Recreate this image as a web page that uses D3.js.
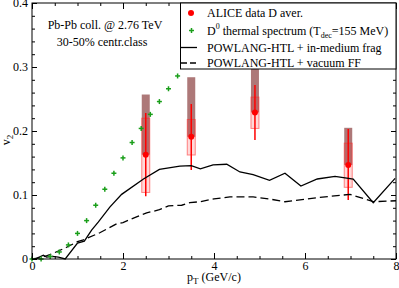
<!DOCTYPE html>
<html>
<head>
<meta charset="utf-8">
<script src="https://cdn.jsdelivr.net/npm/d3@7"></script>
<style>
  body { margin: 0; background: #fff; }
  svg text { font-family: "Liberation Serif", "DejaVu Serif", serif; fill: #000; }
</style>
</head>
<body>
<svg id="chart" width="399" height="288"></svg>
<script>
// ---- data ----
// D0 thermal spectrum (green crosses)
const thermalPt = [0, 0.2, 0.4, 0.6, 0.8, 1.0, 1.2, 1.4, 1.6, 1.8, 2.0, 2.2, 2.4, 2.6, 2.8, 3.0, 3.2];
const thermalV2 = [0, 0, 0.004, 0.011, 0.022, 0.04, 0.06, 0.084, 0.109, 0.134, 0.158, 0.182, 0.204, 0.226, 0.246, 0.266, 0.286];

// POWLANG-HTL + in-medium frag (solid)
const medPt = [0, 0.1, 0.25, 0.32, 0.45, 0.58, 0.73, 1.0, 1.15, 1.31, 1.46, 1.71, 1.97, 2.45, 2.8, 3.25, 3.5, 3.7, 3.98, 4.28, 4.57, 4.86, 5.22, 5.56, 5.91, 6.27, 6.66, 7.06, 7.5, 7.98];
const medV2 = [0, 0.001, 0.006, 0.003, 0.004, 0.003, 0, 0.025, 0.028, 0.045, 0.058, 0.081, 0.101, 0.125, 0.140, 0.145, 0.146, 0.141, 0.147, 0.148, 0.136, 0.132, 0.123, 0.134, 0.114, 0.125, 0.129, 0.125, 0.088, 0.126];

// POWLANG-HTL + vacuum FF (dashed)
const vacPt = [0, 0.2, 0.47, 0.75, 1.0, 1.13, 1.49, 1.86, 2.0, 2.37, 2.52, 2.8, 3.0, 3.29, 3.47, 3.69, 4.0, 4.35, 4.86, 5.2, 5.56, 6.29, 6.99, 7.5, 8.0];
const vacV2 = [0, 0.002, 0.009, 0.018, 0.027, 0.030, 0.041, 0.055, 0.057, 0.068, 0.072, 0.077, 0.083, 0.084, 0.088, 0.0895, 0.094, 0.097, 0.097, 0.094, 0.0895, 0.096, 0.101, 0.0895, 0.091];

// ALICE data D average
const alicePt     = [2.5, 3.5, 4.9, 6.95];
const aliceV2     = [0.163, 0.191, 0.229, 0.147];
const aliceStatLo = [0.098, 0.139, 0.186, 0.092];
const aliceStatHi = [0.228, 0.242, 0.272, 0.203];
const aliceSysLo  = [0.104, 0.1625, 0.204, 0.112];
const aliceSysHi  = [0.220, 0.218, 0.253, 0.181];
const aliceFdHi   = [0.257, 0.284, 0.33, 0.205];   // feed-down band, central value -> top

const xTicks = [0, 2, 4, 6, 8];
const yTicks = [0, 0.1, 0.2, 0.3, 0.4];

const legendLabels = ['ALICE data D aver.', 'thermal', 'POWLANG-HTL + in-medium frag', 'POWLANG-HTL + vacuum FF'];

// ---- layout ----
const svg = d3.select('#chart');
const L = 32, R = 396, T = 3, B = 259;

const x = d3.scaleLinear().domain([0, 8]).range([L, R]);
const y = d3.scaleLinear().domain([0, 0.4]).range([B, T]);

const plot = svg.append('g');

// ---- ALICE boxes and bars ----
const alice = alicePt.map((p, i) => ({
  pt: p, v: aliceV2[i], sLo: aliceStatLo[i], sHi: aliceStatHi[i],
  yLo: aliceSysLo[i], yHi: aliceSysHi[i], fd: aliceFdHi[i]
}));
const bw = 8;

plot.selectAll('.fd').data(alice).enter().append('rect')
  .attr('x', d => x(d.pt) - bw / 2)
  .attr('width', bw)
  .attr('y', d => y(d.fd))
  .attr('height', d => y(d.v) - y(d.fd))
  .attr('fill', '#ad7878');

plot.selectAll('.sys').data(alice).enter().append('rect')
  .attr('x', d => x(d.pt) - bw / 2)
  .attr('width', bw)
  .attr('y', d => y(d.yHi))
  .attr('height', d => y(d.yLo) - y(d.yHi))
  .attr('fill', 'rgba(255,0,0,0.15)')
  .attr('stroke', 'rgba(255,40,40,0.55)')
  .attr('stroke-width', 1);

plot.selectAll('.stat').data(alice).enter().append('line')
  .attr('x1', d => x(d.pt)).attr('x2', d => x(d.pt))
  .attr('y1', d => y(d.sHi)).attr('y2', d => y(d.sLo))
  .attr('stroke', '#ff0000').attr('stroke-width', 1.5);

plot.selectAll('.dot').data(alice).enter().append('circle')
  .attr('cx', d => x(d.pt)).attr('cy', d => y(d.v)).attr('r', 3)
  .attr('fill', '#ff0000');

// ---- curves ----
const line = d3.line().x(d => x(d[0])).y(d => y(d[1]));

plot.append('path')
  .datum(medPt.map((p, i) => [p, medV2[i]]))
  .attr('d', line).attr('fill', 'none')
  .attr('stroke', '#000').attr('stroke-width', 1.3);

plot.append('path')
  .datum(vacPt.map((p, i) => [p, vacV2[i]]))
  .attr('d', line).attr('fill', 'none')
  .attr('stroke', '#000').attr('stroke-width', 1.3)
  .attr('stroke-dasharray', '8,4');

// ---- thermal crosses ----
const green = '#1a9f1a';
plot.selectAll('.th').data(thermalPt.map((p, i) => [p, thermalV2[i]])).enter()
  .append('g')
  .attr('transform', d => `translate(${x(d[0])},${y(d[1])})`)
  .each(function () {
    const g = d3.select(this);
    g.append('line').attr('x1', -2.5).attr('x2', 2.5).attr('stroke', green).attr('stroke-width', 1.5);
    g.append('line').attr('y1', -2.5).attr('y2', 2.5).attr('stroke', green).attr('stroke-width', 1.5);
  });

// ---- axes (inward ticks on all four sides) ----
const xMinor = d3.range(0, 8.01, 0.5);
const yMinor = d3.range(0, 0.401, 0.02);

svg.append('g').attr('transform', `translate(0,${B})`)
  .call(d3.axisBottom(x).tickValues(xTicks).tickSize(-6).tickPadding(2).tickFormat(d3.format('d')));
svg.append('g').attr('transform', `translate(0,${B})`)
  .call(d3.axisBottom(x).tickValues(xMinor).tickSize(-3).tickFormat(''));
svg.append('g').attr('transform', `translate(0,${T})`)
  .call(d3.axisTop(x).tickValues(xTicks).tickSize(-6).tickFormat(''));
svg.append('g').attr('transform', `translate(0,${T})`)
  .call(d3.axisTop(x).tickValues(xMinor).tickSize(-3).tickFormat(''));
svg.append('g').attr('transform', `translate(${L},0)`)
  .call(d3.axisLeft(y).tickValues(yTicks).tickSize(-5).tickPadding(4).tickFormat(d => d === 0 ? '0' : d3.format('.1f')(d)));
svg.append('g').attr('transform', `translate(${L},0)`)
  .call(d3.axisLeft(y).tickValues(yMinor).tickSize(-3).tickFormat(''));
svg.append('g').attr('transform', `translate(${R},0)`)
  .call(d3.axisRight(y).tickValues(yTicks).tickSize(-5).tickFormat(''));
svg.append('g').attr('transform', `translate(${R},0)`)
  .call(d3.axisRight(y).tickValues(yMinor).tickSize(-3).tickFormat(''));

svg.selectAll('.domain').remove();
svg.selectAll('.tick line').attr('stroke', '#000').attr('stroke-width', 1);
svg.selectAll('.tick text')
  .style('font-family', '"Liberation Serif", serif').style('font-size', '12px').attr('fill', '#000');

svg.append('rect').attr('x', L).attr('y', T).attr('width', R - L).attr('height', B - T)
  .attr('fill', 'none').attr('stroke', '#000').attr('stroke-width', 1);

// ---- axis titles ----
const xt = svg.append('text').attr('x', 214).attr('y', 281).attr('text-anchor', 'middle')
  .style('font-size', '12px');
xt.append('tspan').text('p');
xt.append('tspan').text('T').attr('dy', 3).style('font-size', '9px');
xt.append('tspan').text(' (GeV/c)').attr('dy', -3);

const yt = svg.append('text').attr('transform', 'translate(10,140) rotate(-90)')
  .attr('text-anchor', 'middle').style('font-size', '12px');
yt.append('tspan').text('v');
yt.append('tspan').text('2').attr('dy', 3).style('font-size', '9px');

// ---- annotation ----
svg.append('text').attr('x', 105).attr('y', 29).attr('text-anchor', 'middle')
  .style('font-size', '12px').text('Pb-Pb coll. @ 2.76 TeV');
svg.append('text').attr('x', 102).attr('y', 46).attr('text-anchor', 'middle')
  .style('font-size', '12px').text('30-50% centr.class');

// ---- legend ----
const lg = svg.append('g');
lg.append('rect').attr('x', 180.5).attr('y', T).attr('width', R - 180.5).attr('height', 66)
  .attr('fill', '#fff').attr('stroke', '#000').attr('stroke-width', 1);
const rowY = [13, 30.5, 47.5, 63];
const tx = 207;

lg.append('circle').attr('cx', 191).attr('cy', rowY[0]).attr('r', 3).attr('fill', '#ff0000');
lg.append('line').attr('x1', 189).attr('x2', 194).attr('y1', rowY[1]).attr('y2', rowY[1]).attr('stroke', green).attr('stroke-width', 1.5);
lg.append('line').attr('x1', 191.5).attr('x2', 191.5).attr('y1', rowY[1] - 2.5).attr('y2', rowY[1] + 2.5).attr('stroke', green).attr('stroke-width', 1.5);
lg.append('line').attr('x1', 181).attr('x2', 197).attr('y1', rowY[2]).attr('y2', rowY[2]).attr('stroke', '#000').attr('stroke-width', 1.3);
lg.append('line').attr('x1', 181).attr('x2', 197).attr('y1', rowY[3]).attr('y2', rowY[3]).attr('stroke', '#000').attr('stroke-width', 1.3).attr('stroke-dasharray', '6,3');

lg.append('text').attr('x', tx).attr('y', rowY[0] + 4).style('font-size', '12px').text(legendLabels[0]);
const t2 = lg.append('text').attr('x', tx).attr('y', rowY[1] + 4).style('font-size', '12px');
t2.append('tspan').text('D');
t2.append('tspan').text('0').attr('dy', -6).style('font-size', '8px');
t2.append('tspan').text(' thermal spectrum (T').attr('dy', 6);
t2.append('tspan').text('dec').attr('dy', 3).style('font-size', '8px');
t2.append('tspan').text('=155 MeV)').attr('dy', -3);
lg.append('text').attr('x', tx).attr('y', rowY[2] + 4).style('font-size', '12px').text(legendLabels[2]);
lg.append('text').attr('x', tx).attr('y', rowY[3] + 4).style('font-size', '12px').text(legendLabels[3]);
</script>
</body>
</html>
